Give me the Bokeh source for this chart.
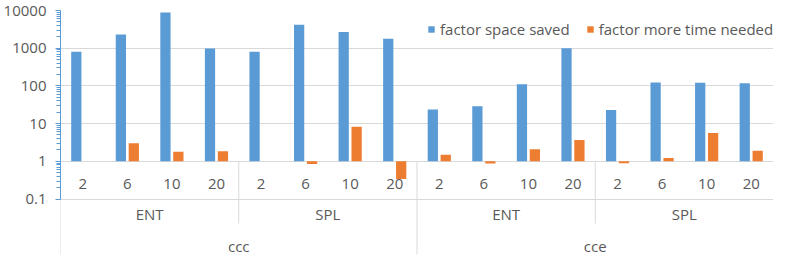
import math
from bokeh.plotting import figure
from bokeh.models import (Range1d, FixedTicker, CustomJSTickFormatter, Legend,
                          LegendItem, ColumnDataSource)
from bokeh.core.properties import value
from bokeh.embed import file_html
from bokeh.resources import INLINE

# ---------------- data ----------------
outer_groups = ["ccc", "cce"]
inner_groups = ["ENT", "SPL"]
k_labels = ["2", "6", "10", "20"]
series_names = ["factor space saved", "factor more time needed"]
space_saved = [800, 2300, 8900, 980, 800, 4200, 2700, 1780,
               23.5, 29, 110, 990, 23, 124, 122, 117]
time_needed = [1.0, 3.0, 1.8, 1.85, 1.0, 0.85, 8.2, 0.34,
               1.5, 0.87, 2.1, 3.7, 0.89, 1.22, 5.6, 1.9]
y_ticks = [0.1, 1, 10, 100, 1000, 10000]
baseline = 1

# ---------------- layout constants ----------------
BLUE = "#5B9BD5"
ORANGE = "#ED7D31"
GRID = "#D9D9D9"
TEXT = "#595959"
FONT = "Open Sans"
FS = "15px"

W, H = 773, 255
TOP, BOTTOM, LEFT = 10, 1, 58
frame_h = H - TOP - BOTTOM
px_per_dec = 37.7
decades = frame_h / px_per_dec
y_top = 10000
y_bottom = y_top / 10 ** decades
below = 5 * px_per_dec  # px from frame top to the 0.1 line


def y_at(px_from_top):
    return 10 ** (math.log10(y_top) - px_from_top / px_per_dec)


n_k = len(k_labels)
n_in = len(inner_groups)
n_out = len(outer_groups)
n = n_out * n_in * n_k
xc = [i + 0.5 for i in range(n)]

bar_w = 0.23
off = 0.145

src = ColumnDataSource(dict(
    x1=[x - off for x in xc], x2=[x + off for x in xc],
    s=space_saved, t=time_needed, b=[baseline] * n))

p = figure(width=W, height=H, y_axis_type="log",
           x_range=Range1d(0, n), y_range=Range1d(y_bottom, y_top),
           output_backend="svg", toolbar_location=None,
           x_axis_location=None,
           min_border_left=LEFT, min_border_right=0,
           min_border_top=TOP, min_border_bottom=BOTTOM)
p.outline_line_color = None
p.xgrid.grid_line_color = None
p.background_fill_color = "white"

# y axis
minor = []
for d in range(-1, 4):
    for m in range(2, 10):
        minor.append(m * 10 ** d)
p.yaxis.ticker = FixedTicker(ticks=y_ticks, minor_ticks=minor)
p.yaxis.formatter = CustomJSTickFormatter(code="return String(tick);")
p.yaxis.bounds = (y_ticks[0], y_ticks[-1])
p.yaxis.axis_line_color = BLUE
p.yaxis.major_tick_line_color = BLUE
p.yaxis.minor_tick_line_color = BLUE
p.yaxis.major_tick_out = 5
p.yaxis.major_tick_in = 0
p.yaxis.minor_tick_out = 4
p.yaxis.minor_tick_in = 0
p.yaxis.major_label_standoff = 9
p.yaxis.major_label_text_font = FONT
p.yaxis.major_label_text_font_size = FS
p.yaxis.major_label_text_color = TEXT
p.ygrid.grid_line_color = GRID
p.ygrid.grid_line_width = 1

# bars
r1 = p.vbar(x="x1", top="s", bottom="b", width=bar_w, source=src,
            fill_color=BLUE, line_color=None)
r2 = p.vbar(x="x2", top="t", bottom="b", width=bar_w, source=src,
            fill_color=ORANGE, line_color=None)

# category separators
y_row1_bottom = y_ticks[0]
y_row2_bottom = y_at(below + 24.5)
sx0, sy0, sy1 = [], [], []
sx0 += [0, n]
sy0 += [baseline, baseline]
sy1 += [y_bottom, y_row1_bottom]
for gi in range(1, n_out * n_in):
    xb = gi * n_k
    sx0.append(xb)
    sy0.append(baseline)
    if gi % n_in == 0:
        sy1.append(y_bottom)
    else:
        sy1.append(y_row2_bottom)
p.segment(x0=sx0, y0=sy0, x1=sx0, y1=sy1, line_color=GRID, line_width=1)

# labels row 1 (k)
p.text(x=xc, y=[10 ** -0.6] * n, text=k_labels * (n_out * n_in),
       text_font=value(FONT), text_font_size=FS, text_color=TEXT,
       text_align="center", text_baseline="middle")
# row 2 (inner)
x2c = [g * n_k + n_k / 2 for g in range(n_out * n_in)]
p.text(x=x2c, y=[y_at(below + 15)] * len(x2c),
       text=inner_groups * n_out,
       text_font=value(FONT), text_font_size=FS, text_color=TEXT,
       text_align="center", text_baseline="middle")
# row 3 (outer)
x3c = [g * n_k * n_in + n_k * n_in / 2 for g in range(n_out)]
p.text(x=x3c, y=[y_at(below + 46.5)] * len(x3c),
       text=outer_groups,
       text_font=value(FONT), text_font_size=FS, text_color=TEXT,
       text_align="center", text_baseline="middle")

legend = Legend(items=[LegendItem(label=value(series_names[0]), renderers=[r1]),
                       LegendItem(label=value(series_names[1]), renderers=[r2])],
                orientation="horizontal", location=(367, 215),
                glyph_width=8, glyph_height=8, label_standoff=5, spacing=16,
                padding=0, margin=0, border_line_color=None,
                background_fill_alpha=0, label_text_font=FONT,
                label_text_font_size=FS, label_text_color=TEXT,
                label_height=16)
p.add_layout(legend)

open("out.html", "w").write(file_html(p, INLINE))
